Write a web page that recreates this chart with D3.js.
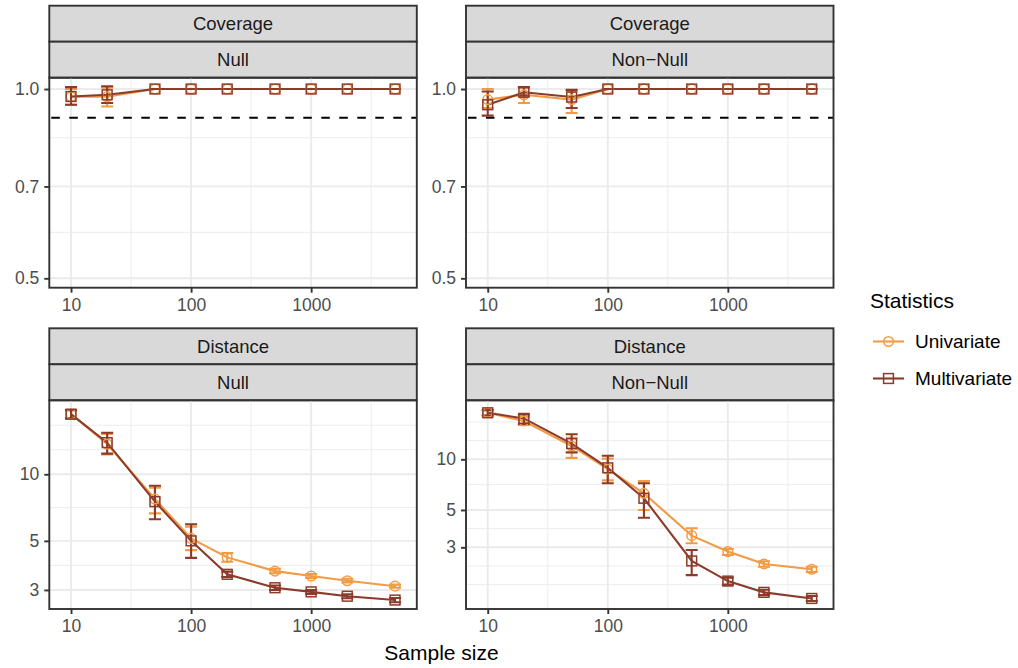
<!DOCTYPE html>
<html><head><meta charset="utf-8">
<script src="https://cdn.jsdelivr.net/npm/d3@7"></script>
<style>body{margin:0;background:#fff}</style>
</head><body><svg id="c" width="1018" height="668"></svg>
<script>
// ---------- data ----------
const sampleSizes = [10, 20, 50, 100, 200, 500, 1000, 2000, 5000];
const seriesNames = ["Univariate", "Multivariate"];
const seriesColors = ["#F29B45", "#8C3B2B"];
const xTicks = [10, 100, 1000];
const coverageTicks = [0.5, 0.7, 1.0];
const distanceTicks = [3, 5, 10];
const nominalCoverage = 0.9;
const stripRow = ["Coverage", "Distance"];
const stripCol = ["Null", "Non\u2212Null"];

// Coverage, Null
const covNullUni     = [0.972, 0.972, 1, 1, 1, 1, 1, 1, 1];
const covNullUniLo   = [0.944, 0.938, 1, 1, 1, 1, 1, 1, 1];
const covNullUniHi   = [1.000, 1.005, 1, 1, 1, 1, 1, 1, 1];
const covNullMulti   = [0.973, 0.979, 1, 1, 1, 1, 1, 1, 1];
const covNullMultiLo = [0.944, 0.950, 1, 1, 1, 1, 1, 1, 1];
const covNullMultiHi = [1.007, 1.010, 1, 1, 1, 1, 1, 1, 1];
// Coverage, Non-Null
const covAltUni      = [0.962, 0.979, 0.962, 1, 1, 1, 1, 1, 1];
const covAltUniLo    = [0.933, 0.950, 0.916, 1, 1, 1, 1, 1, 1];
const covAltUniHi    = [1.000, 1.005, 0.992, 1, 1, 1, 1, 1, 1];
const covAltMulti    = [0.944, 0.988, 0.971, 1, 1, 1, 1, 1, 1];
const covAltMultiLo  = [0.907, 0.976, 0.933, 1, 1, 1, 1, 1, 1];
const covAltMultiHi  = [0.991, 1.007, 0.997, 1, 1, 1, 1, 1, 1];
// Distance, Null
const distNullUni     = [18.7, 13.7, 7.73, 5.13, 4.21, 3.65, 3.47, 3.30, 3.12];
const distNullUniLo   = [17.9, 12.3, 6.66, 4.54, 4.02, 3.57, 3.40, 3.24, 3.07];
const distNullUniHi   = [19.5, 15.2, 8.70, 5.80, 4.40, 3.74, 3.54, 3.37, 3.17];
const distNullMulti   = [18.7, 13.9, 7.52, 5.00, 3.53, 3.07, 2.94, 2.81, 2.70];
const distNullMultiLo = [17.9, 12.4, 6.26, 4.19, 3.43, 3.00, 2.88, 2.75, 2.64];
const distNullMultiHi = [19.5, 15.4, 8.88, 5.94, 3.63, 3.14, 3.00, 2.87, 2.76];
// Distance, Non-Null
const distAltUni      = [18.9, 16.9, 12.0, 8.75, 6.28, 3.52, 2.83, 2.39, 2.22];
const distAltUniLo    = [18.2, 16.0, 10.2, 7.50, 5.00, 3.17, 2.70, 2.30, 2.14];
const distAltUniHi    = [19.6, 17.9, 13.4, 10.1, 7.43, 3.89, 2.93, 2.48, 2.30];
const distAltMulti    = [18.9, 17.5, 12.4, 8.90, 5.87, 2.49, 1.89, 1.62, 1.49];
const distAltMultiLo  = [18.2, 16.2, 11.0, 7.20, 4.50, 2.05, 1.80, 1.56, 1.44];
const distAltMultiHi  = [19.6, 18.5, 14.1, 10.5, 7.20, 2.89, 1.98, 1.68, 1.54];

// axis limits (log scale)
const xLimits = [Math.pow(10, 0.819), Math.pow(10, 3.880)];
const covLimits = [0.4831, 1.0423];
const distNullLimits = [2.46, 21.6];
const distAltLimits = [1.29, 22.42];

// ---------- layout ----------
const colX = [49.3, 466];
const panelW = 367.5;
const stripTop = [5.7, 328.3];
const stripH = 36;
const panelBottom = [287.7, 609];
const FONT = "'Liberation Sans', Arial, Helvetica, sans-serif";
const border = "#333333";
const gridCol = "#EBEBEB";
const LW = 2.1;

const svg = d3.select("#c");

const panels = [
  {r:0, c:0, lim:covLimits, ticks:coverageTicks, fmt:d3.format(".1f"), hline:nominalCoverage,
   s:[[covNullUni,covNullUniLo,covNullUniHi],[covNullMulti,covNullMultiLo,covNullMultiHi]]},
  {r:0, c:1, lim:covLimits, ticks:coverageTicks, fmt:d3.format(".1f"), hline:nominalCoverage,
   s:[[covAltUni,covAltUniLo,covAltUniHi],[covAltMulti,covAltMultiLo,covAltMultiHi]]},
  {r:1, c:0, lim:distNullLimits, ticks:distanceTicks, fmt:d3.format("d"), hline:null,
   s:[[distNullUni,distNullUniLo,distNullUniHi],[distNullMulti,distNullMultiLo,distNullMultiHi]]},
  {r:1, c:1, lim:distAltLimits, ticks:distanceTicks, fmt:d3.format("d"), hline:null,
   s:[[distAltUni,distAltUniLo,distAltUniHi],[distAltMulti,distAltMultiLo,distAltMultiHi]]},
];

// ggplot-style minor breaks (in log10 space)
function minorBreaks(breaks, lim) {
  let b = breaks.map(Math.log10);
  const l = lim.map(Math.log10);
  const bd = b[1] - b[0];
  if (l[0] < b[0]) b = [b[0] - bd, ...b];
  if (l[1] > b[b.length-1]) b = [...b, b[b.length-1] + bd];
  const out = [];
  for (let i = 0; i < b.length - 1; i++) { out.push(b[i], (b[i] + b[i+1]) / 2); }
  out.push(b[b.length-1]);
  return out.filter(v => v >= l[0] && v <= l[1]).map(v => Math.pow(10, v));
}

function drawMarker(sel, k, cx, cy) {
  if (k === 0) {
    sel.append("circle").attr("cx", cx).attr("cy", cy).attr("r", 4.8);
  } else {
    sel.append("rect").attr("x", cx - 4.9).attr("y", cy - 4.9).attr("width", 9.8).attr("height", 9.8);
  }
}

panels.forEach(p => {
  const x0 = colX[p.c], x1 = x0 + panelW;
  const sTop = stripTop[p.r];
  const pTop = sTop + 2 * stripH;
  const pBot = panelBottom[p.r];
  const x = d3.scaleLog().domain(xLimits).range([x0, x1]);
  const y = d3.scaleLog().domain(p.lim).range([pBot, pTop]);
  const g = svg.append("g");

  // strips
  [stripRow[p.r], stripCol[p.c]].forEach((t, i) => {
    g.append("rect").attr("x", x0).attr("y", sTop + i * stripH).attr("width", panelW).attr("height", stripH)
      .attr("fill", "#D9D9D9").attr("stroke", border).attr("stroke-width", 1.9);
    g.append("text").attr("x", (x0 + x1) / 2).attr("y", sTop + i * stripH + stripH / 2)
      .attr("dy", "0.35em").attr("text-anchor", "middle").attr("font-family", FONT)
      .attr("font-size", 18.5).attr("fill", "#1A1A1A").text(t);
  });

  // grid
  const xMinor = minorBreaks(xTicks, xLimits);
  const yMinor = minorBreaks(p.ticks, p.lim);
  g.selectAll(".xmin").data(xMinor).join("line").attr("x1", d => x(d)).attr("x2", d => x(d))
    .attr("y1", pTop).attr("y2", pBot).attr("stroke", gridCol).attr("stroke-width", 0.95);
  g.selectAll(".ymin").data(yMinor).join("line").attr("y1", d => y(d)).attr("y2", d => y(d))
    .attr("x1", x0).attr("x2", x1).attr("stroke", gridCol).attr("stroke-width", 0.95);
  g.selectAll(".xmaj").data(xTicks).join("line").attr("x1", d => x(d)).attr("x2", d => x(d))
    .attr("y1", pTop).attr("y2", pBot).attr("stroke", gridCol).attr("stroke-width", 1.9);
  g.selectAll(".ymaj").data(p.ticks).join("line").attr("y1", d => y(d)).attr("y2", d => y(d))
    .attr("x1", x0).attr("x2", x1).attr("stroke", gridCol).attr("stroke-width", 1.9);

  // reference line
  if (p.hline !== null) {
    g.append("line").attr("x1", x0).attr("x2", x1).attr("y1", y(p.hline)).attr("y2", y(p.hline))
      .attr("stroke", "#000").attr("stroke-width", 1.9).attr("stroke-dasharray", "8.5,9.5")
      .attr("stroke-dashoffset", -2);
  }

  const pts = p.s.map((s, k) => sampleSizes.map((n, i) => ({n, v: s[0][i], lo: s[1][i], hi: s[2][i], k})));
  const line = d3.line().x(d => x(d.n)).y(d => y(d.v));
  // lines
  pts.forEach((arr, k) => {
    g.append("path").datum(arr).attr("d", line).attr("fill", "none")
      .attr("stroke", seriesColors[k]).attr("stroke-width", LW);
  });
  // error bars
  const capW = Math.pow(10, 0.05);
  pts.forEach((arr, k) => {
    const eb = g.append("g").attr("stroke", seriesColors[k]).attr("stroke-width", LW).attr("fill", "none");
    eb.selectAll("path").data(arr).join("path").attr("d", d => {
      const xl = x(d.n / capW), xr = x(d.n * capW), xc = x(d.n);
      const yt = y(d.hi), yb = y(d.lo);
      return `M${xl},${yt}H${xr}M${xc},${yt}V${yb}M${xl},${yb}H${xr}`;
    });
  });
  // points
  pts.forEach((arr, k) => {
    const pg = g.append("g").attr("stroke", seriesColors[k]).attr("stroke-width", 1.5).attr("fill", "none");
    arr.forEach(d => drawMarker(pg, k, x(d.n), y(d.v)));
  });

  // border
  g.append("rect").attr("x", x0).attr("y", pTop).attr("width", panelW).attr("height", pBot - pTop)
    .attr("fill", "none").attr("stroke", border).attr("stroke-width", 1.9);

  // axes
  const ax = g.append("g").attr("transform", `translate(0,${pBot})`)
    .call(d3.axisBottom(x).tickValues(xTicks).tickFormat(d3.format("d")).tickSize(5).tickPadding(6));
  const ay = g.append("g").attr("transform", `translate(${x0},0)`)
    .call(d3.axisLeft(y).tickValues(p.ticks).tickFormat(p.fmt).tickSize(5).tickPadding(5));
  [ax, ay].forEach(a => {
    a.select(".domain").remove();
    a.selectAll("line").attr("stroke", border).attr("stroke-width", 1.9);
    a.selectAll("text").attr("fill", "#4D4D4D").attr("font-family", FONT).attr("font-size", 17.5);
  });
});

// axis title
svg.append("text").attr("x", 441.5).attr("y", 660).attr("text-anchor", "middle")
  .attr("font-family", FONT).attr("font-size", 21).attr("fill", "#000").text("Sample size");

// legend
const lg = svg.append("g");
lg.append("text").attr("x", 870).attr("y", 308).attr("font-family", FONT).attr("font-size", 21)
  .attr("fill", "#000").text("Statistics");
seriesNames.forEach((nm, k) => {
  const cy = 341.5 + k * 37;
  lg.append("line").attr("x1", 873).attr("x2", 904).attr("y1", cy).attr("y2", cy)
    .attr("stroke", seriesColors[k]).attr("stroke-width", LW);
  const mg = lg.append("g").attr("fill", "none").attr("stroke", seriesColors[k]).attr("stroke-width", 1.5);
  drawMarker(mg, k, 888.5, cy);
  lg.append("text").attr("x", 915).attr("y", cy).attr("dy", "0.35em").attr("font-family", FONT)
    .attr("font-size", 19).attr("fill", "#000").text(nm);
});
</script>
</body></html>
